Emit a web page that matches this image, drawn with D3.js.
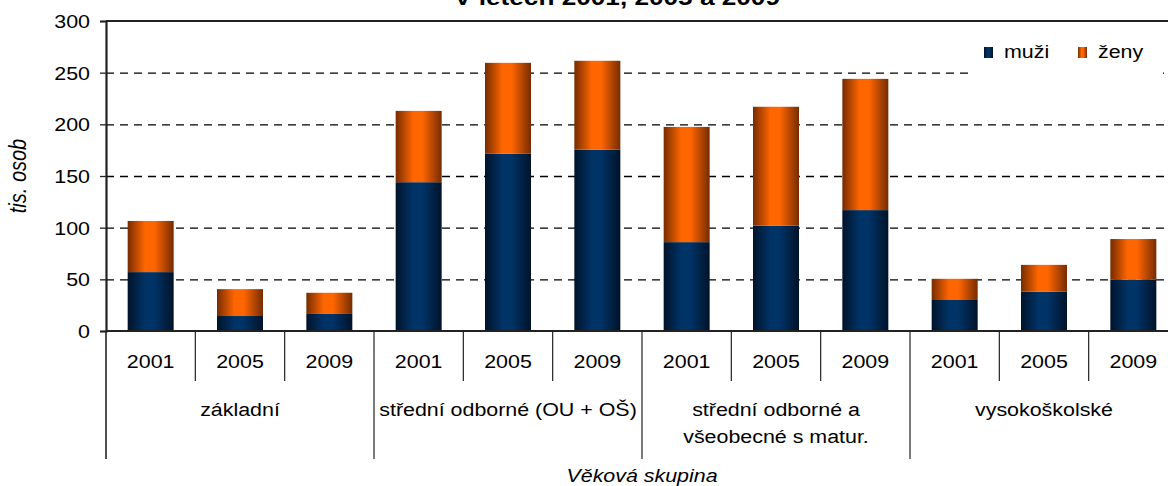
<!DOCTYPE html>
<html>
<head>
<meta charset="utf-8">
<script src="https://cdn.jsdelivr.net/npm/d3@7"></script>
<style>
  body { margin: 0; background: #fff; }
  svg { display: block; font-family: "Liberation Sans", Arial, sans-serif; }
</style>
</head>
<body>
<script>
// data (tis. osob)
var years = ["2001", "2005", "2009"];
var groups = [["základní"], ["střední odborné (OU + OŠ)"], ["střední odborné a", "všeobecné s matur."], ["vysokoškolské"]];
var muzi = [57, 14.5, 16.5, 144, 171.5, 175.5, 86, 102, 117, 30, 38, 49.5];
var zeny = [49.5, 26, 20.5, 69, 88, 86, 111.5, 115, 127, 20.5, 26, 39.5];
var yTicks = [0, 50, 100, 150, 200, 250, 300];
var seriesNames = ["muži", "ženy"];

var W = 1168, H = 486;
var SX = 1.19; // the picture is stretched sideways, so is its text
var pL = 106, pR = 1178, pT = 21, pB = 331;

var svg = d3.select("body").append("svg")
    .attr("width", W)
    .attr("height", H)

var defs = svg.append("defs");
function grad(id, dark, bright) {
    var g = defs.append("linearGradient").attr("id", id)
        .attr("x1", "0%").attr("x2", "100%").attr("y1", "0%").attr("y2", "0%");
    [[0, dark], [0.38, bright], [0.58, bright], [1, dark]].forEach(function (s) {
        g.append("stop").attr("offset", s[0]).attr("stop-color", s[1]);
    });
}
grad("gBlue", "#00132a", "#003366");
grad("gOrange", "#762c00", "#ff6600");

var bars = d3.range(muzi.length);
var x = d3.scaleBand().domain(bars).range([pL, pR])
    .paddingInner(0.485).paddingOuter(0.2425);
var y = d3.scaleLinear().domain([0, 300]).range([pB, pT]);
var step = x.step(), bw = x.bandwidth();

function txt(sel, px, py, rot) {
    return sel.attr("transform", "translate(" + px + "," + py + ") scale(" + SX + ",1)" + (rot ? " rotate(" + rot + ")" : ""));
}

// gridlines
svg.append("g")
    .attr("transform", "translate(" + pL + ",0)")
    .call(d3.axisLeft(y).tickValues(yTicks.slice(1, -1)).tickSize(-(pR - pL)).tickFormat(""))
    .call(function (g) { g.select(".domain").remove(); })
    .selectAll("line")
    .attr("stroke", "#000")
    .attr("stroke-width", 1.4)
    .attr("stroke-dasharray", "8,6");

// stacked bars
var stack = bars.map(function (i) { return [muzi[i], muzi[i] + zeny[i]]; });
var bg = svg.append("g");
bg.selectAll("rect.m").data(bars).enter().append("rect")
    .attr("x", function (i) { return x(i); })
    .attr("width", bw)
    .attr("y", function (i) { return y(stack[i][0]); })
    .attr("height", function (i) { return y(0) - y(stack[i][0]); })
    .attr("fill", "url(#gBlue)");
bg.selectAll("rect.z").data(bars).enter().append("rect")
    .attr("x", function (i) { return x(i); })
    .attr("width", bw)
    .attr("y", function (i) { return y(stack[i][1]); })
    .attr("height", function (i) { return y(stack[i][0]) - y(stack[i][1]); })
    .attr("fill", "url(#gOrange)");

// frame: top line, left axis, baseline
svg.append("line").attr("x1", pL).attr("x2", W).attr("y1", pT).attr("y2", pT)
    .attr("stroke", "#222").attr("stroke-width", 2);

var yAxis = svg.append("g")
    .attr("transform", "translate(" + pL + ",0)")
    .call(d3.axisLeft(y).tickValues(yTicks).tickSize(6).tickPadding(10));
yAxis.attr("font-family", null).attr("font-size", null);
yAxis.select(".domain").attr("stroke", "#222").attr("stroke-width", 2.2);
yAxis.selectAll(".tick line").attr("stroke", "#222").attr("stroke-width", 1.3);
yAxis.selectAll(".tick text")
    .attr("x", null).attr("dy", null)
    .attr("font-size", 18).attr("fill", "#000").attr("text-anchor", "end")
    .attr("dominant-baseline", "central")
    .attr("transform", "translate(-16,0) scale(" + SX + ",1)");

svg.append("line").attr("x1", pL).attr("x2", W).attr("y1", pB).attr("y2", pB)
    .attr("stroke", "#222").attr("stroke-width", 2);

// category dividers
var edges = d3.range(bars.length + 1).map(function (i) {
    return { i: i, x: pL + i * step };
});
svg.selectAll("line.div").data(edges).enter().append("line")
    .attr("x1", function (d) { return d.x; })
    .attr("x2", function (d) { return d.x; })
    .attr("y1", pB)
    .attr("y2", function (d) { return d.i % 3 === 0 ? 459 : 381; })
    .attr("stroke", "#222")
    .attr("stroke-width", function (d) { return d.i === 0 ? 1.6 : 1.2; });

// year labels
svg.selectAll("text.yr").data(bars).enter().append("text")
    .attr("font-size", 18)
    .attr("text-anchor", "middle")
    .text(function (i) { return years[i % 3]; })
    .each(function (i) { txt(d3.select(this), x(i) + bw / 2, 368); });

// group labels
groups.forEach(function (lines, gi) {
    var cx = pL + (gi * 3 + 1.5) * step;
    lines.forEach(function (l, li) {
        txt(svg.append("text"), cx, 416 + li * 27)
            .attr("font-size", 18)
            .attr("text-anchor", "middle")
            .text(l);
    });
});

// axis titles
txt(svg.append("text"), (pL + pR) / 2, 482)
    .attr("font-size", 18).attr("font-style", "italic")
    .attr("text-anchor", "middle")
    .text("Věková skupina");
txt(svg.append("text"), 26, 176, -90)
    .attr("font-size", 20).attr("font-style", "italic")
    .attr("text-anchor", "middle")
    .text("tis. osob");

// title, only its lower part is in the picture
txt(svg.append("text"), 617, 5)
    .attr("font-size", 22).attr("font-weight", "bold")
    .attr("text-anchor", "middle")
    .text("V letech 2001, 2005 a 2009");

// legend
var lg = svg.append("g");
lg.append("rect").attr("x", 969).attr("y", 32).attr("width", 194).attr("height", 44).attr("fill", "#fff");
var fills = ["url(#gBlue)", "url(#gOrange)"];
var lx = [984, 1078];
seriesNames.forEach(function (n, i) {
    lg.append("rect").attr("x", lx[i]).attr("y", 47).attr("width", 9).attr("height", 11).attr("fill", fills[i]);
    txt(lg.append("text"), lx[i] + 20, 58)
        .attr("font-size", 18)
        .text(n);
});
</script>
</body>
</html>
